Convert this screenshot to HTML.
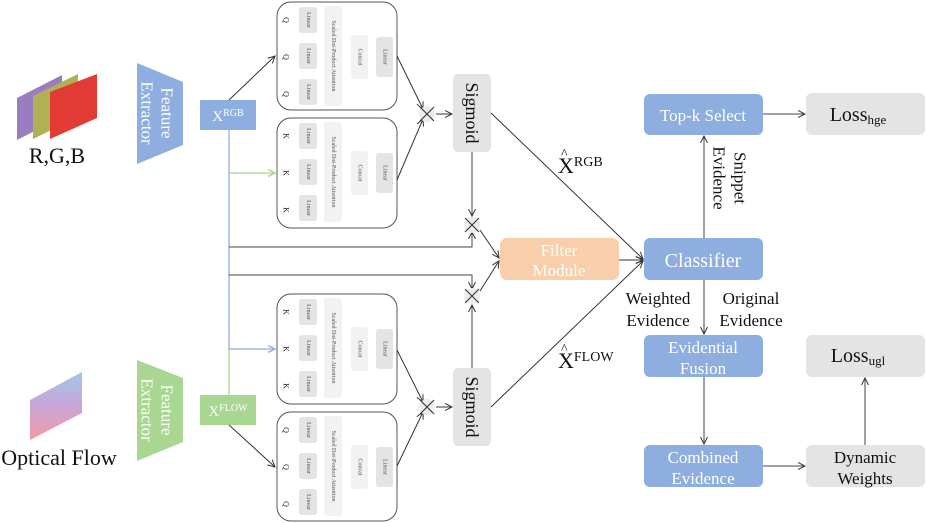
<!DOCTYPE html>
<html><head><meta charset="utf-8"><style>
html,body{margin:0;padding:0;background:#fff;}
svg{display:block;font-family:"Liberation Serif",serif;}
.sm{font-size:6px;fill:#555;}
</style></head><body>
<svg width="926" height="523" viewBox="0 0 926 523" xmlns="http://www.w3.org/2000/svg">
<defs>
<marker id="a" markerWidth="8" markerHeight="8" refX="7" refY="4" orient="auto" markerUnits="userSpaceOnUse"><path d="M0,0.5 L7,4 L0,7.5" fill="none" stroke="#333" stroke-width="1"/></marker>
<marker id="ag" markerWidth="8" markerHeight="8" refX="7" refY="4" orient="auto" markerUnits="userSpaceOnUse"><path d="M0,0.5 L7,4 L0,7.5" fill="none" stroke="#9fd48a" stroke-width="1.3"/></marker>
<marker id="ab" markerWidth="8" markerHeight="8" refX="7" refY="4" orient="auto" markerUnits="userSpaceOnUse"><path d="M0,0.5 L7,4 L0,7.5" fill="none" stroke="#8eaee0" stroke-width="1.3"/></marker>
<linearGradient id="of" x1="0" y1="0" x2="0" y2="1"><stop offset="0" stop-color="#9ec8e8"/><stop offset="0.5" stop-color="#c9a6d8"/><stop offset="1" stop-color="#f29aa0"/></linearGradient>
</defs>

<!-- RGB images -->
<polygon points="17,98 62,75 62,117 17,140" fill="#9a7cc0"/>
<polygon points="33,96 78,74 78,117 33,139" fill="#b0b054"/>
<polygon points="50,92 97,74 97,118 50,139" fill="#e23a35"/>
<text x="57" y="163" font-size="22" text-anchor="middle" fill="#111">R,G,B</text>
<!-- optical flow -->
<polygon points="30,400 82,372 82,413 30,440" fill="url(#of)"/>
<text x="59" y="465" font-size="22" text-anchor="middle" fill="#111">Optical Flow</text>

<!-- feature extractors -->
<polygon points="137,63 183,82 183,145 137,164" fill="#8eaee0"/>
<text transform="translate(167,113) rotate(90)" font-size="17" fill="#fff" text-anchor="middle" dominant-baseline="central">Feature</text>
<text transform="translate(147,113) rotate(90)" font-size="17" fill="#fff" text-anchor="middle" dominant-baseline="central">Extractor</text>
<polygon points="137,360 183,378 183,442 137,461" fill="#a9d690"/>
<text transform="translate(167,410) rotate(90)" font-size="17" fill="#fff" text-anchor="middle" dominant-baseline="central">Feature</text>
<text transform="translate(147,410) rotate(90)" font-size="17" fill="#fff" text-anchor="middle" dominant-baseline="central">Extractor</text>

<!-- X boxes -->
<rect x="200" y="100" width="56" height="30" fill="#8eaee0"/>
<text x="228" y="121" font-size="15" fill="#fff" text-anchor="middle">X<tspan font-size="10" dy="-5">RGB</tspan></text>
<rect x="200" y="395" width="56" height="30" fill="#a9d690"/>
<text x="228" y="416" font-size="15" fill="#fff" text-anchor="middle">X<tspan font-size="10" dy="-5">FLOW</tspan></text>

<!-- vertical connectors -->
<line x1="229" y1="130" x2="229" y2="349" stroke="#8eaee0" stroke-width="1.3"/>
<line x1="229" y1="349" x2="229" y2="395" stroke="#a9d690" stroke-width="1.3"/>
<line x1="229" y1="173" x2="275" y2="173" stroke="#a9d690" stroke-width="1.3" marker-end="url(#ag)"/>
<line x1="229" y1="349" x2="275" y2="349" stroke="#8eaee0" stroke-width="1.3" marker-end="url(#ab)"/>
<line x1="229" y1="100" x2="275" y2="56" stroke="#333" marker-end="url(#a)"/>
<line x1="229" y1="425" x2="275" y2="467" stroke="#333" marker-end="url(#a)"/>
<polyline points="229,247 472,247 472,232" fill="none" stroke="#444" marker-end="url(#a)"/>
<polyline points="229,275 472,275 472,289" fill="none" stroke="#444" marker-end="url(#a)"/>

<!-- attention box 1 (Q) -->
<g transform="translate(277,2)">
<rect x="0" y="0" width="120" height="108" rx="14" fill="#fff" stroke="#555"/>
<text class="sm" font-size="8" transform="translate(9,18) rotate(90)" text-anchor="middle" dominant-baseline="central" style="font-size:8px;fill:#222">Q</text>
<text transform="translate(9,55) rotate(90)" text-anchor="middle" dominant-baseline="central" style="font-size:8px;fill:#222">Q</text>
<text transform="translate(9,92) rotate(90)" text-anchor="middle" dominant-baseline="central" style="font-size:8px;fill:#222">Q</text>
<rect x="22" y="5" width="18" height="26" rx="3" fill="#e4e4e4"/><text class="sm" transform="translate(31,18) rotate(90)" text-anchor="middle" dominant-baseline="central">Linear</text>
<rect x="22" y="41" width="18" height="26" rx="3" fill="#e4e4e4"/><text class="sm" transform="translate(31,54) rotate(90)" text-anchor="middle" dominant-baseline="central">Linear</text>
<rect x="22" y="77" width="18" height="26" rx="3" fill="#e4e4e4"/><text class="sm" transform="translate(31,90) rotate(90)" text-anchor="middle" dominant-baseline="central">Linear</text>
<rect x="47" y="4" width="18" height="100" rx="3" fill="#f2f2f2"/><text class="sm" transform="translate(56,54) rotate(90)" text-anchor="middle" dominant-baseline="central">Scaled Dot-Product Attention</text>
<rect x="74" y="33" width="17" height="44" rx="3" fill="#f2f2f2"/><text class="sm" transform="translate(82.5,55) rotate(90)" text-anchor="middle" dominant-baseline="central">Concat</text>
<rect x="99" y="35" width="17" height="40" rx="3" fill="#e4e4e4"/><text class="sm" transform="translate(107.5,55) rotate(90)" text-anchor="middle" dominant-baseline="central">Linear</text>
</g>
<!-- attention box 2 (K) -->
<g transform="translate(277,118)">
<rect x="0" y="0" width="120" height="110" rx="14" fill="#fff" stroke="#555"/>
<text transform="translate(9,18) rotate(90)" text-anchor="middle" dominant-baseline="central" style="font-size:8px;fill:#222">K</text>
<text transform="translate(9,55) rotate(90)" text-anchor="middle" dominant-baseline="central" style="font-size:8px;fill:#222">K</text>
<text transform="translate(9,92) rotate(90)" text-anchor="middle" dominant-baseline="central" style="font-size:8px;fill:#222">K</text>
<rect x="22" y="5" width="18" height="26" rx="3" fill="#e4e4e4"/><text class="sm" transform="translate(31,18) rotate(90)" text-anchor="middle" dominant-baseline="central">Linear</text>
<rect x="22" y="41" width="18" height="26" rx="3" fill="#e4e4e4"/><text class="sm" transform="translate(31,54) rotate(90)" text-anchor="middle" dominant-baseline="central">Linear</text>
<rect x="22" y="77" width="18" height="26" rx="3" fill="#e4e4e4"/><text class="sm" transform="translate(31,90) rotate(90)" text-anchor="middle" dominant-baseline="central">Linear</text>
<rect x="47" y="4" width="18" height="100" rx="3" fill="#f2f2f2"/><text class="sm" transform="translate(56,54) rotate(90)" text-anchor="middle" dominant-baseline="central">Scaled Dot-Product Attention</text>
<rect x="74" y="33" width="17" height="44" rx="3" fill="#f2f2f2"/><text class="sm" transform="translate(82.5,55) rotate(90)" text-anchor="middle" dominant-baseline="central">Concat</text>
<rect x="99" y="35" width="17" height="40" rx="3" fill="#e4e4e4"/><text class="sm" transform="translate(107.5,55) rotate(90)" text-anchor="middle" dominant-baseline="central">Linear</text>
</g>
<!-- attention box 3 (K) -->
<g transform="translate(277,294)">
<rect x="0" y="0" width="120" height="110" rx="14" fill="#fff" stroke="#555"/>
<text transform="translate(9,18) rotate(90)" text-anchor="middle" dominant-baseline="central" style="font-size:8px;fill:#222">K</text>
<text transform="translate(9,55) rotate(90)" text-anchor="middle" dominant-baseline="central" style="font-size:8px;fill:#222">K</text>
<text transform="translate(9,92) rotate(90)" text-anchor="middle" dominant-baseline="central" style="font-size:8px;fill:#222">K</text>
<rect x="22" y="5" width="18" height="26" rx="3" fill="#e4e4e4"/><text class="sm" transform="translate(31,18) rotate(90)" text-anchor="middle" dominant-baseline="central">Linear</text>
<rect x="22" y="41" width="18" height="26" rx="3" fill="#e4e4e4"/><text class="sm" transform="translate(31,54) rotate(90)" text-anchor="middle" dominant-baseline="central">Linear</text>
<rect x="22" y="77" width="18" height="26" rx="3" fill="#e4e4e4"/><text class="sm" transform="translate(31,90) rotate(90)" text-anchor="middle" dominant-baseline="central">Linear</text>
<rect x="47" y="4" width="18" height="100" rx="3" fill="#f2f2f2"/><text class="sm" transform="translate(56,54) rotate(90)" text-anchor="middle" dominant-baseline="central">Scaled Dot-Product Attention</text>
<rect x="74" y="33" width="17" height="44" rx="3" fill="#f2f2f2"/><text class="sm" transform="translate(82.5,55) rotate(90)" text-anchor="middle" dominant-baseline="central">Concat</text>
<rect x="99" y="35" width="17" height="40" rx="3" fill="#e4e4e4"/><text class="sm" transform="translate(107.5,55) rotate(90)" text-anchor="middle" dominant-baseline="central">Linear</text>
</g>
<!-- attention box 4 (Q) -->
<g transform="translate(277,412)">
<rect x="0" y="0" width="120" height="109" rx="14" fill="#fff" stroke="#555"/>
<text transform="translate(9,18) rotate(90)" text-anchor="middle" dominant-baseline="central" style="font-size:8px;fill:#222">Q</text>
<text transform="translate(9,55) rotate(90)" text-anchor="middle" dominant-baseline="central" style="font-size:8px;fill:#222">Q</text>
<text transform="translate(9,92) rotate(90)" text-anchor="middle" dominant-baseline="central" style="font-size:8px;fill:#222">Q</text>
<rect x="22" y="5" width="18" height="26" rx="3" fill="#e4e4e4"/><text class="sm" transform="translate(31,18) rotate(90)" text-anchor="middle" dominant-baseline="central">Linear</text>
<rect x="22" y="41" width="18" height="26" rx="3" fill="#e4e4e4"/><text class="sm" transform="translate(31,54) rotate(90)" text-anchor="middle" dominant-baseline="central">Linear</text>
<rect x="22" y="77" width="18" height="26" rx="3" fill="#e4e4e4"/><text class="sm" transform="translate(31,90) rotate(90)" text-anchor="middle" dominant-baseline="central">Linear</text>
<rect x="47" y="4" width="18" height="100" rx="3" fill="#f2f2f2"/><text class="sm" transform="translate(56,54) rotate(90)" text-anchor="middle" dominant-baseline="central">Scaled Dot-Product Attention</text>
<rect x="74" y="33" width="17" height="44" rx="3" fill="#f2f2f2"/><text class="sm" transform="translate(82.5,55) rotate(90)" text-anchor="middle" dominant-baseline="central">Concat</text>
<rect x="99" y="35" width="17" height="40" rx="3" fill="#e4e4e4"/><text class="sm" transform="translate(107.5,55) rotate(90)" text-anchor="middle" dominant-baseline="central">Linear</text>
</g>

<!-- box to mult lines -->
<line x1="397" y1="56" x2="423" y2="109" stroke="#333" marker-end="url(#a)"/>
<line x1="397" y1="180" x2="423" y2="119" stroke="#333" marker-end="url(#a)"/>
<line x1="397" y1="350" x2="423" y2="402" stroke="#333" marker-end="url(#a)"/>
<line x1="397" y1="466" x2="423" y2="412" stroke="#333" marker-end="url(#a)"/>

<!-- multiply symbols -->
<g stroke="#333" stroke-width="1.1">
<circle cx="427" cy="114" r="8" fill="#ececec" stroke="none"/><path d="M420,107 L434,121 M434,107 L420,121"/>
<circle cx="427" cy="407" r="8" fill="#ececec" stroke="none"/><path d="M420,400 L434,414 M434,400 L420,414"/>
<circle cx="472" cy="225" r="8" fill="#ececec" stroke="none"/><path d="M465,218 L479,232 M479,218 L465,232"/>
<circle cx="472" cy="296" r="8" fill="#ececec" stroke="none"/><path d="M465,289 L479,303 M479,289 L465,303"/>
</g>
<line x1="436" y1="114" x2="452" y2="114" stroke="#333" marker-end="url(#a)"/>
<line x1="436" y1="407" x2="452" y2="407" stroke="#333" marker-end="url(#a)"/>

<!-- sigmoid -->
<rect x="453" y="74" width="38" height="78" rx="5" fill="#e4e4e4"/>
<text transform="translate(472,113) rotate(90)" font-size="18" fill="#111" text-anchor="middle" dominant-baseline="central">Sigmoid</text>
<rect x="453" y="368" width="38" height="78" rx="5" fill="#e4e4e4"/>
<text transform="translate(472,407) rotate(90)" font-size="18" fill="#111" text-anchor="middle" dominant-baseline="central">Sigmoid</text>
<line x1="472" y1="152" x2="472" y2="216" stroke="#444" marker-end="url(#a)"/>
<line x1="472" y1="368" x2="472" y2="305" stroke="#444" marker-end="url(#a)"/>

<!-- to filter -->
<line x1="480" y1="230" x2="499" y2="258" stroke="#333" marker-end="url(#a)"/>
<line x1="480" y1="291" x2="499" y2="261" stroke="#333" marker-end="url(#a)"/>
<rect x="500" y="238" width="119" height="42" rx="7" fill="#f8cfaa"/>
<text x="559" y="256" font-size="17" fill="#fff" text-anchor="middle">Filter</text>
<text x="559" y="276" font-size="17" fill="#fff" text-anchor="middle">Module</text>
<line x1="619" y1="260" x2="643" y2="260" stroke="#333" marker-end="url(#a)"/>
<line x1="491" y1="113" x2="643" y2="259" stroke="#333" marker-end="url(#a)"/>
<line x1="491" y1="407" x2="643" y2="261" stroke="#333" marker-end="url(#a)"/>
<text x="558" y="173" font-size="22" fill="#111">X<tspan font-size="14" dy="-7">RGB</tspan></text>
<text x="561" y="158" font-size="14" fill="#111">^</text>
<text x="558" y="368" font-size="22" fill="#111">X<tspan font-size="14" dy="-7">FLOW</tspan></text>
<text x="561" y="353" font-size="14" fill="#111">^</text>

<!-- right side -->
<g font-size="17" text-anchor="middle">
<rect x="644" y="94" width="119" height="41" rx="6" fill="#8eaee0"/>
<text x="703" y="121" fill="#fff">Top-k Select</text>
<rect x="806" y="93" width="119" height="42" rx="6" fill="#e4e4e4"/>
<text x="858" y="121" font-size="20" fill="#111">Loss<tspan font-size="13" dy="3">hge</tspan></text>
<rect x="644" y="238" width="119" height="42" rx="6" fill="#8eaee0"/>
<text x="703" y="267" font-size="20" fill="#fff">Classifier</text>
<rect x="644" y="335" width="119" height="42" rx="6" fill="#8eaee0"/>
<text x="703" y="353" fill="#fff">Evidential</text>
<text x="703" y="374" fill="#fff">Fusion</text>
<rect x="806" y="335" width="119" height="42" rx="6" fill="#e4e4e4"/>
<text x="858" y="362" font-size="20" fill="#111">Loss<tspan font-size="13" dy="3">ugl</tspan></text>
<rect x="644" y="445" width="119" height="42" rx="6" fill="#8eaee0"/>
<text x="703" y="463" fill="#fff">Combined</text>
<text x="703" y="484" fill="#fff">Evidence</text>
<rect x="806" y="445" width="119" height="42" rx="6" fill="#e4e4e4"/>
<text x="865" y="463" fill="#111">Dynamic</text>
<text x="865" y="484" fill="#111">Weights</text>
<text x="658" y="304" fill="#111">Weighted</text>
<text x="658" y="326" fill="#111">Evidence</text>
<text x="751" y="304" fill="#111">Original</text>
<text x="751" y="326" fill="#111">Evidence</text>
</g>
<text transform="translate(740,178) rotate(90)" font-size="17" fill="#111" text-anchor="middle" dominant-baseline="central">Snippet</text>
<text transform="translate(719,178) rotate(90)" font-size="17" fill="#111" text-anchor="middle" dominant-baseline="central">Evidence</text>
<line x1="704" y1="238" x2="704" y2="136" stroke="#444" marker-end="url(#a)"/>
<line x1="763" y1="114" x2="805" y2="114" stroke="#444" marker-end="url(#a)"/>
<line x1="704" y1="280" x2="704" y2="334" stroke="#444" marker-end="url(#a)"/>
<line x1="704" y1="377" x2="704" y2="444" stroke="#444" marker-end="url(#a)"/>
<line x1="763" y1="466" x2="805" y2="466" stroke="#444" marker-end="url(#a)"/>
<line x1="865" y1="445" x2="865" y2="378" stroke="#444" marker-end="url(#a)"/>
</svg>
</body></html>
